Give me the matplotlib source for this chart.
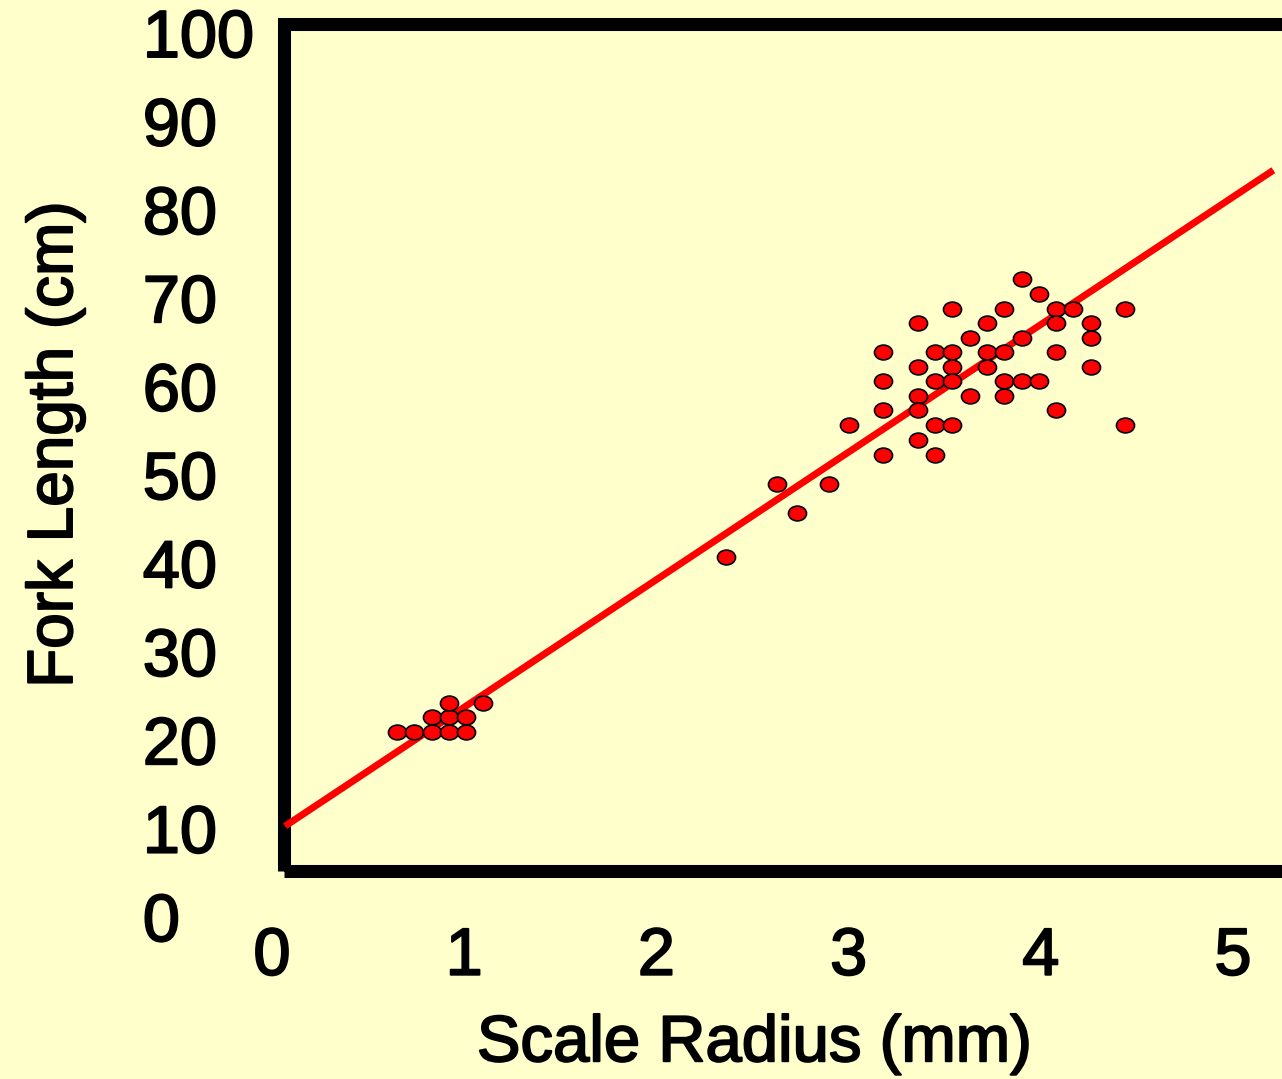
import numpy as np
import matplotlib
matplotlib.use("Agg")
import matplotlib.pyplot as plt
import matplotlib.patheffects as pe
from matplotlib.path import Path
from matplotlib.patches import Rectangle

plt.rcParams['font.family'] = ['Liberation Sans', 'DejaVu Sans']

BG = '#FFFFCC'

# scale radius (mm) and fork length (cm) for each fish
radius = [0.65, 0.74, 0.83, 0.92, 1.01, 0.83, 0.92, 1.01, 0.92, 1.10,
          2.36, 2.63, 2.73, 2.90, 3.00,
          3.90, 3.99, 3.54, 3.81, 4.08, 4.17, 4.44,
          3.36, 3.72, 4.08, 4.26, 3.63, 3.90, 4.26,
          3.18, 3.45, 3.54, 3.72, 3.81, 4.08,
          3.36, 3.54, 3.72, 4.26,
          3.18, 3.45, 3.54, 3.81, 3.90, 3.99,
          3.36, 3.63, 3.81, 3.18, 3.36, 4.08,
          3.45, 3.54, 4.44, 3.36, 3.18, 3.45]
fork_len = [20.9, 20.9, 20.9, 20.9, 20.9, 22.6, 22.6, 22.6, 24.2, 24.2,
            40.7, 49.0, 45.7, 49.0, 55.6,
            72.2, 70.5, 68.8, 68.8, 68.8, 68.8, 68.8,
            67.2, 67.2, 67.2, 67.2, 65.5, 65.5, 65.5,
            63.9, 63.9, 63.9, 63.9, 63.9, 63.9,
            62.2, 62.2, 62.2, 62.2,
            60.6, 60.6, 60.6, 60.6, 60.6, 60.6,
            58.9, 58.9, 58.9, 57.3, 57.3, 57.3,
            55.6, 55.6, 55.6, 54.0, 52.3, 52.3]

# regression line: intercept, slope and the x span it covers
fit_a, fit_b = 9.3, 14.43
fit_x = [0.068, 5.21]

xticks = [0, 1, 2, 3, 4, 5]
yticks = [0, 10, 20, 30, 40, 50, 60, 70, 80, 90, 100]

W, H = 1282, 1079
fig = plt.figure(figsize=(W / 100, H / 100), dpi=100, facecolor=BG)

px_per_x = 192.2
left_px, bottom_px, top_px = 272, 162, 1046
ax = fig.add_axes([left_px / W, bottom_px / H, 5.5 * px_per_x / W, (top_px - bottom_px) / H])
ax.set_facecolor('none')
ax.set_xlim(0, 5.5)
ax.set_ylim(0, 100)
for s in ax.spines.values():
    s.set_visible(False)

# heavy black frame, open to the right
frame = Rectangle((0.065, 5.2), 6.0, 95.87, fill=False, edgecolor='black',
                  linewidth=9.4, joinstyle='miter', clip_on=False, zorder=1)
ax.add_patch(frame)

fx = np.array(fit_x)
ax.plot(fx, fit_a + fit_b * fx, color='#FF0000', linewidth=5,
        solid_capstyle='butt', clip_on=False, zorder=2)

# slightly flattened ellipse marker
circ = Path.unit_circle()
ellipse = Path(circ.vertices * np.array([1.0, 0.82]), circ.codes)
ax.plot(radius, fork_len, linestyle='none', marker=ellipse, markersize=13,
        markerfacecolor='#FF0000', markeredgecolor='black', markeredgewidth=1.2,
        clip_on=False, zorder=3)

ax.set_xticks(xticks)
ax.set_xticklabels([str(t) for t in xticks])
ax.set_yticks(yticks)
ax.set_yticklabels([str(t) for t in yticks])
ax.tick_params(axis='both', length=0, labelsize=48, colors='black')
ax.tick_params(axis='x', pad=7)
ax.tick_params(axis='y', pad=93)
for lab in ax.get_yticklabels():
    lab.set_horizontalalignment('left')

ax.set_xlabel('Scale Radius (mm)', fontsize=47)
ax.xaxis.set_label_coords((754 - left_px) / (5.5 * px_per_x), -0.11)
ax.set_ylabel('Fork Length (cm)', fontsize=46)
ax.yaxis.set_label_coords((85 - left_px) / (5.5 * px_per_x), 0.534)

# thicken the glyphs a little
heavy = [pe.withStroke(linewidth=1.4, foreground='black')]
for t in ax.get_xticklabels() + ax.get_yticklabels() + [ax.xaxis.label, ax.yaxis.label]:
    t.set_path_effects(heavy)

fig.savefig('out.png', dpi=100, facecolor=BG)
